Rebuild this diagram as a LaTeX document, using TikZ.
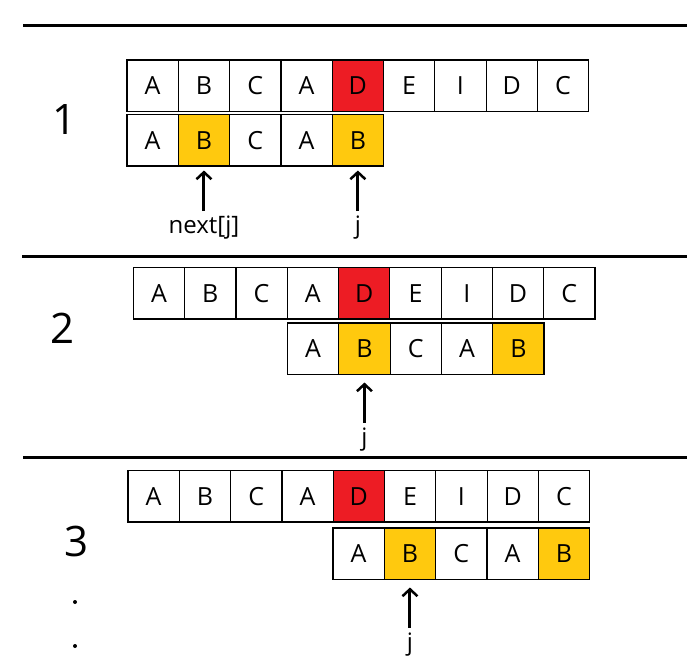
\documentclass[tikz,border=0pt]{standalone}
\usepackage{fontspec}
\setmainfont{Open Sans}
\usetikzlibrary{positioning, arrows.meta}
\definecolor{kmpred}{RGB}{237,28,36}
\definecolor{kmpyellow}{RGB}{255,201,14}
\tikzset{
    cell/.style={rectangle, draw=black, fill=white, line width=1.2pt, minimum width=51.3pt, minimum height=51.5pt, inner sep=0pt, outer sep=0pt, font=\fontsize{25}{25}\selectfont},
    mismatch/.style={cell, fill=kmpred},
    hit/.style={cell, fill=kmpyellow},
    steplbl/.style={font=\fontsize{42}{42}\selectfont, inner sep=0pt},
    ptrlbl/.style={font=\fontsize{24}{24}\selectfont, inner sep=0pt},
    ptr/.style={-{Straight Barb[length=7pt, width=15pt, line width=2.5pt]}, line width=3pt},
    sepline/.style={line width=3pt}
}
\begin{document}
\begin{tikzpicture}[x=1pt, y=-1pt]
    \useasboundingbox (0,0) rectangle (687,666);

    % Separators
    \draw[sepline] (23,26) -- (687,26);
    \draw[sepline] (22,256) -- (687,256);
    \draw[sepline] (23,457) -- (687,457);

    % Step 1
    \node[steplbl] (n1) at (65,120) {1};
    \node[cell, anchor=north west] (a1) at (127,60) {A};
    \node[cell, right=0pt of a1] (a2) {B}; \node[cell, right=0pt of a2] (a3) {C};
    \node[cell, right=0pt of a3] (a4) {A}; \node[mismatch, right=0pt of a4] (a5) {D};
    \node[cell, right=0pt of a5] (a6) {E}; \node[cell, right=0pt of a6] (a7) {I};
    \node[cell, right=0pt of a7] (a8) {D}; \node[cell, right=0pt of a8] (a9) {C};
    \node[cell, anchor=north west] (p1) at (127,114.5) {A};
    \node[hit, right=0pt of p1] (p2) {B}; \node[cell, right=0pt of p2] (p3) {C};
    \node[cell, right=0pt of p3] (p4) {A}; \node[hit, right=0pt of p4] (p5) {B};
    \node[ptrlbl, below=50pt of p2] (nextj) {next[j]};
    \node[ptrlbl, below=50pt of p5] (j1) {j};
    \draw[ptr, shorten <=5pt, shorten >=4.5pt] (nextj.north) -- (p2.south);
    \draw[ptr, shorten <=5pt, shorten >=4.5pt] (j1.north) -- (p5.south);

    % Step 2
    \node[steplbl] (n2) at (63,328) {2};
    \node[cell, anchor=north west] (b1) at (133.3,267.5) {A};
    \node[cell, right=0pt of b1] (b2) {B}; \node[cell, right=0pt of b2] (b3) {C};
    \node[cell, right=0pt of b3] (b4) {A}; \node[mismatch, right=0pt of b4] (b5) {D};
    \node[cell, right=0pt of b5] (b6) {E}; \node[cell, right=0pt of b6] (b7) {I};
    \node[cell, right=0pt of b7] (b8) {D}; \node[cell, right=0pt of b8] (b9) {C};
    \node[cell, anchor=north west] (q1) at (287.5,323) {A};
    \node[hit, right=0pt of q1] (q2) {B}; \node[cell, right=0pt of q2] (q3) {C};
    \node[cell, right=0pt of q3] (q4) {A}; \node[hit, right=0pt of q4] (q5) {B};
    \node[ptrlbl, below=53pt of q2] (j2) {j};
    \draw[ptr, shorten <=5pt, shorten >=8pt] (j2.north) -- (q2.south);

    % Step 3
    \node[steplbl] (n3) at (77,541) {3};
    \fill (75,602) circle (2pt);
    \fill (75,646) circle (2pt);
    \node[cell, anchor=north west] (c1) at (128,470.5) {A};
    \node[cell, right=0pt of c1] (c2) {B}; \node[cell, right=0pt of c2] (c3) {C};
    \node[cell, right=0pt of c3] (c4) {A}; \node[mismatch, right=0pt of c4] (c5) {D};
    \node[cell, right=0pt of c5] (c6) {E}; \node[cell, right=0pt of c6] (c7) {I};
    \node[cell, right=0pt of c7] (c8) {D}; \node[cell, right=0pt of c8] (c9) {C};
    \node[cell, anchor=north west] (s1) at (333,528) {A};
    \node[hit, right=0pt of s1] (s2) {B}; \node[cell, right=0pt of s2] (s3) {C};
    \node[cell, right=0pt of s3] (s4) {A}; \node[hit, right=0pt of s4] (s5) {B};
    \node[ptrlbl, below=53pt of s2] (j3) {j};
    \draw[ptr, shorten <=5pt, shorten >=8pt] (j3.north) -- (s2.south);
\end{tikzpicture}
\end{document}
